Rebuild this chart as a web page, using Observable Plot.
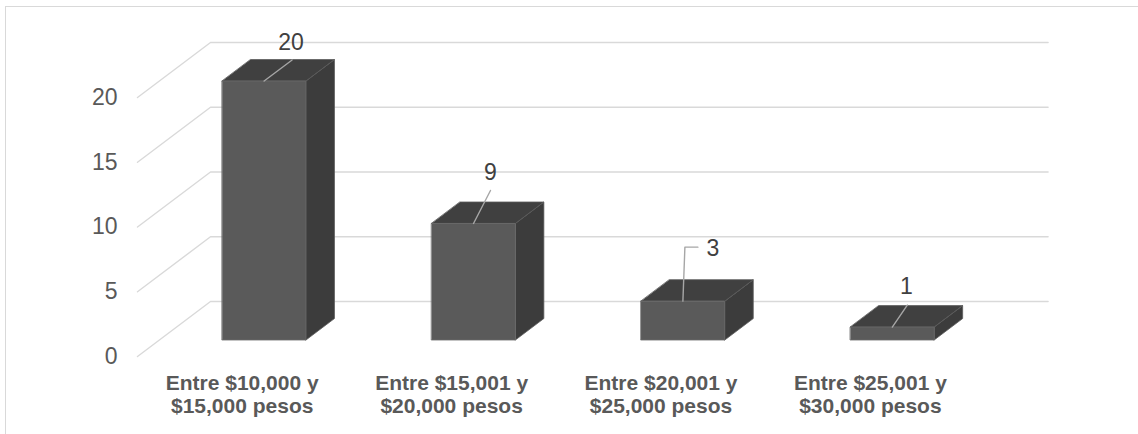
<!DOCTYPE html>
<html>
<head>
<meta charset="utf-8">
<script src="https://cdn.jsdelivr.net/npm/d3@7"></script>
<script src="https://cdn.jsdelivr.net/npm/@observablehq/plot@0.6"></script>
<style>
  html, body { margin: 0; padding: 0; background: #fff; }
  #wrap { position: relative; width: 1138px; height: 434px; overflow: hidden; }
  #frame { position: absolute; left: 5px; top: 6px; width: 1200px; height: 500px;
           border: 1.5px solid #d9d9d9; box-sizing: border-box; }
  #chart { position: absolute; left: 0; top: 0; }
</style>
</head>
<body>
<div id="wrap"><div id="frame"></div><div id="chart"></div></div>
<script>
// ---- data ----
const categories = [
  "Entre $10,000 y\n$15,000 pesos",
  "Entre $15,001 y\n$20,000 pesos",
  "Entre $20,001 y\n$25,000 pesos",
  "Entre $25,001 y\n$30,000 pesos"
];
const values = [20, 9, 3, 1];
const yTicks = [0, 5, 10, 15, 20];

// ---- layout (pixels) ----
const PX = 209.4;          // px per category
const PY = 12.95;          // px per unit value
const DXu = 73 / PX;       // depth offset (x) in category units
const DYu = 55 / PY;       // depth offset (y) in value units
const HW = 0.2;            // bar half width (category units)
const D1 = 0.30, D2 = 0.69; // bar depth range (fraction of wall depth)
// leader lines / labels, pixel offsets from front-top center of each bar
const labelLayout = [
  {lead: [[0, 0], [28, -21]], label: [27, -38]},
  {lead: [[0, 0], [17, -33]], label: [17, -51]},
  {lead: [[0, 0], [2, -54], [15, -54]], label: [30, -53]},
  {lead: [[0, 0], [15, -22]], label: [14, -40]}
];

const proj = (cx, v, d) => ({x: cx + d * DXu, y: v + d * DYu});

// back + side wall gridlines
const grid = [];
yTicks.forEach(t => {
  grid.push({t, ...proj(-0.5, t, 0)});
  grid.push({t, ...proj(-0.5, t, 1)});
  grid.push({t, ...proj(categories.length - 0.5, t, 1)});
});

// bar faces
const frontFaces = [], topFaces = [], sideFaces = [];
values.forEach((v, i) => {
  const id = i;
  [[i - HW, 0], [i + HW, 0], [i + HW, v], [i - HW, v]]
    .forEach(([cx, vv]) => frontFaces.push({id, ...proj(cx, vv, D1)}));
  [[i - HW, D1], [i + HW, D1], [i + HW, D2], [i - HW, D2]]
    .forEach(([cx, d]) => topFaces.push({id, ...proj(cx, v, d)}));
  [[0, D1], [0, D2], [v, D2], [v, D1]]
    .forEach(([vv, d]) => sideFaces.push({id, ...proj(i + HW, vv, d)}));
});

// leader lines and value labels
const leaders = [], valueLabels = [];
values.forEach((v, i) => {
  const base = proj(i, v, D1);
  const L = labelLayout[i];
  L.lead.forEach(([ox, oy]) => leaders.push({id: i, x: base.x + ox / PX, y: base.y - oy / PY}));
  valueLabels.push({x: base.x + L.label[0] / PX, y: base.y - L.label[1] / PY, text: String(v)});
});

const catData = categories.map((c, i) => ({x: i, y: 0, c}));
const tickData = yTicks.map(t => ({x: -0.5, y: t}));

const FONT = '"Liberation Sans", Arial, sans-serif';

const chart = Plot.plot({
  width: 1138,
  height: 434,
  style: {background: "transparent", fontFamily: FONT, overflow: "visible"},
  x: {type: "linear", domain: [-0.5, 3.5], range: [137, 137 + 4 * PX], axis: null},
  y: {type: "linear", domain: [0, 20], range: [356, 356 - 20 * PY], axis: null},
  marks: [
    Plot.line(grid, {x: "x", y: "y", z: "t", stroke: "#d9d9d9", strokeWidth: 1.4}),
    Plot.line(sideFaces, {x: "x", y: "y", z: "id", fill: "#3c3c3c", stroke: "#5a5a5a", strokeWidth: 0.8, curve: "linear-closed"}),
    Plot.line(topFaces, {x: "x", y: "y", z: "id", fill: "#404040", stroke: "#5a5a5a", strokeWidth: 0.8, curve: "linear-closed"}),
    Plot.line(frontFaces, {x: "x", y: "y", z: "id", fill: "#5a5a5a", stroke: "#6a6a6a", strokeWidth: 0.8, curve: "linear-closed"}),
    Plot.line(leaders, {x: "x", y: "y", z: "id", stroke: "#a6a6a6", strokeWidth: 1.4}),
    Plot.text(valueLabels, {x: "x", y: "y", text: "text", fill: "#404040", fontSize: 23, textAnchor: "middle", lineAnchor: "middle"}),
    Plot.text(tickData, {x: "x", y: "y", text: d => String(d.y), fill: "#595959", fontSize: 23, textAnchor: "end", lineAnchor: "middle", dx: -20}),
    Plot.text(catData, {x: "x", y: "y", text: "c", fill: "#595959", fontSize: 21, fontWeight: "bold", textAnchor: "middle", lineAnchor: "middle", lineHeight: 1.1, dy: 37.5})
  ]
});
document.getElementById("chart").appendChild(chart);
</script>
</body>
</html>
